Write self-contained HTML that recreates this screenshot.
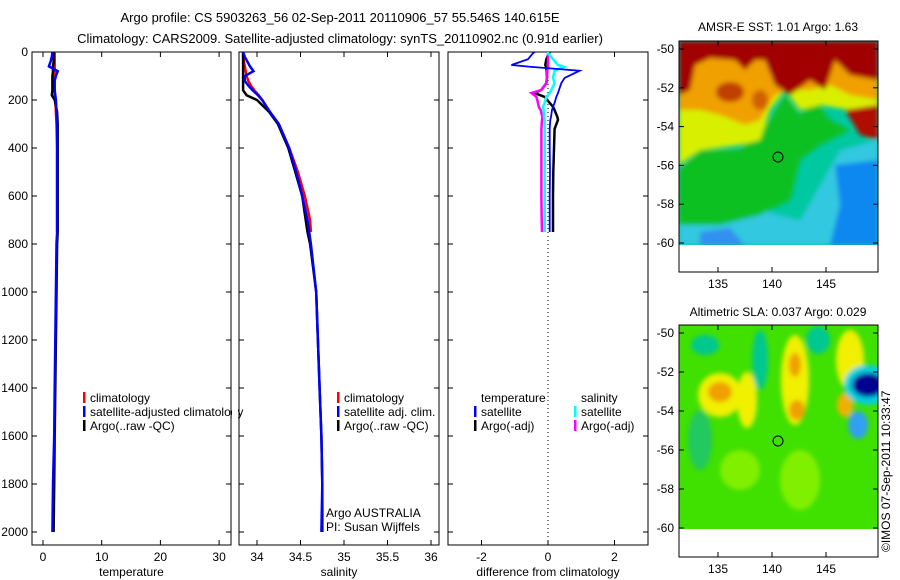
<!DOCTYPE html>
<html><head><meta charset="utf-8"><style>
body{margin:0;background:#fff}
svg{display:block;font-family:"Liberation Sans",sans-serif}
</style></head><body>
<svg id="fig" width="900" height="580" viewBox="0 0 900 580">
<defs>
<filter id="bl" x="-20%" y="-20%" width="140%" height="140%"><feGaussianBlur stdDeviation="2.5"/></filter>
<clipPath id="c1"><rect x="679" y="41" width="199" height="204"/></clipPath>
<clipPath id="c2"><rect x="679" y="325" width="199" height="204"/></clipPath>
</defs>
<text x="340" y="22" font-size="13" text-anchor="middle">Argo profile: CS 5903263_56 02-Sep-2011 20110906_57 55.546S 140.615E</text>
<text x="340" y="43" font-size="13" text-anchor="middle">Climatology: CARS2009. Satellite-adjusted climatology: synTS_20110902.nc (0.91d earlier)</text>
<g id="panels"></g>
<g>
<text x="778" y="31" font-size="12" text-anchor="middle">AMSR-E SST: 1.01 Argo: 1.63</text>
<g clip-path="url(#c1)">
<rect x="679" y="41" width="199" height="204" fill="#00c8a0"/>
<g filter="url(#bl)">
<polygon points="679,215 760,210 800,220 840,150 878,140 878,245 679,245" fill="#30c8e0"/>
<polygon points="835,165 878,160 878,245 830,245 840,205" fill="#1088f0"/>
<polygon points="700,232 730,228 745,245 700,245" fill="#3090f0"/>
<polygon points="679,170 700,150 740,150 770,120 785,95 800,115 815,100 830,120 850,130 820,145 800,160 790,200 760,215 720,225 679,225" fill="#10c020"/>
<polygon points="679,41 878,41 878,120 850,110 820,105 800,110 785,90 770,110 760,140 740,145 700,150 679,165" fill="#d8f000"/>
<polygon points="679,41 878,41 878,100 850,95 830,85 810,90 790,90 775,95 760,120 745,125 720,115 700,110 679,110" fill="#f0a000"/>
<polygon points="679,41 878,41 878,80 850,75 835,60 825,90 810,80 790,95 775,85 765,60 755,60 745,70 735,60 710,58 695,65 690,90 679,95" fill="#a00000"/>
<ellipse cx="730" cy="92" rx="14" ry="10" fill="#c04000"/>
<ellipse cx="760" cy="100" rx="8" ry="10" fill="#d06000"/>
<polygon points="845,110 878,105 878,140 860,135" fill="#b01000"/>
</g>
</g>
<rect x="679" y="245" width="199" height="27" fill="#fff"/>
<rect x="679" y="41" width="199" height="231" fill="none" stroke="#000"/>
<circle cx="778" cy="157" r="5" fill="none" stroke="#000"/>
<g id="ax1"></g>
</g>
<g>
<text x="778" y="316" font-size="12" text-anchor="middle">Altimetric SLA: 0.037 Argo: 0.029</text>
<g clip-path="url(#c2)">
<rect x="679" y="325" width="199" height="204" fill="#40e000"/>
<g filter="url(#bl)">
<ellipse cx="705" cy="345" rx="14" ry="10" fill="#00c890"/>
<ellipse cx="760" cy="360" rx="8" ry="30" fill="#00c890"/>
<ellipse cx="818" cy="340" rx="12" ry="14" fill="#00c890"/>
<ellipse cx="700" cy="440" rx="12" ry="30" fill="#20c860"/>
<ellipse cx="740" cy="470" rx="20" ry="20" fill="#80f000"/>
<ellipse cx="800" cy="480" rx="20" ry="30" fill="#80f000"/>
<ellipse cx="720" cy="395" rx="22" ry="22" fill="#f0f000"/>
<ellipse cx="747" cy="400" rx="10" ry="28" fill="#f0f000"/>
<ellipse cx="795" cy="380" rx="14" ry="45" fill="#f0f000"/>
<ellipse cx="850" cy="360" rx="14" ry="30" fill="#f0f000"/>
<ellipse cx="720" cy="392" rx="12" ry="10" fill="#f0a000"/>
<ellipse cx="795" cy="365" rx="6" ry="12" fill="#f0a000"/>
<ellipse cx="797" cy="410" rx="8" ry="10" fill="#f0a000"/>
<ellipse cx="845" cy="405" rx="8" ry="12" fill="#f0b000"/>
<ellipse cx="868" cy="385" rx="24" ry="20" fill="#00d0e0"/>
<ellipse cx="858" cy="425" rx="10" ry="14" fill="#30a0f0"/>
<ellipse cx="868" cy="385" rx="16" ry="12" fill="#000090"/>
</g>
</g>
<rect x="679" y="529" width="199" height="28" fill="#fff"/>
<rect x="679" y="325" width="199" height="232" fill="none" stroke="#000"/>
<circle cx="778" cy="441" r="5" fill="none" stroke="#000"/>
<g id="ax2"></g>
</g>
<text transform="translate(890,552) rotate(-90)" font-size="12">©IMOS 07-Sep-2011 10:33:47</text>
</svg>
<script>
const depths=[0,20,40,60,80,100,120,140,160,180,200,250,300,400,500,600,700,750,800,1000,1200,1400,1600,1800,2000];
const tempClim=[2.0,2.0,2.0,2.0,2.0,1.9,1.9,1.9,2.0,2.0,2.1,2.2,2.3,2.4,2.4,2.4,2.4,2.4];
const tempSat=[1.6,1.5,1.3,1.0,2.5,2.2,2.0,2.0,2.0,2.1,2.2,2.3,2.4,2.4,2.4,2.4,2.4,2.4,2.3,2.2,2.1,2.0,1.9,1.7,1.6];
const tempArgo=[1.8,1.8,1.8,1.7,1.7,1.6,1.6,1.6,1.6,1.5,2.0,2.4,2.5,2.5,2.5,2.5,2.5,2.5,2.4,2.3,2.2,2.1,2.0,1.9,1.8];
const salClim=[33.84,33.84,33.85,33.86,33.87,33.88,33.9,33.93,33.97,34.02,34.06,34.15,34.25,34.37,34.47,34.55,34.61,34.62];
const salSat=[33.84,33.86,33.89,33.92,33.96,33.86,33.86,33.9,33.95,34.01,34.06,34.15,34.25,34.37,34.45,34.52,34.58,34.6,34.62,34.68,34.7,34.72,34.74,34.75,34.74];
const salArgo=[33.84,33.84,33.84,33.84,33.84,33.84,33.84,33.84,33.84,33.88,34.0,34.14,34.24,34.36,34.44,34.52,34.56,34.58,34.61,34.68,34.7,34.72,34.74,34.75,34.75];
const diffDepths=[0,5,30,54,62,78,108,130,158,171,187,212,228,242,270,283,320,400,500,600,700,750];
const dTempSat=[-0.4,-0.45,-0.6,-1.1,-0.5,0.95,0.5,0.4,0.33,0.3,0.25,0.2,0.15,0.12,0.09,0.07,0.05,0.05,0.06,0.05,0.05,0.05];
const dTempArgo=[0.05,0.03,-0.05,-0.08,-0.06,-0.04,-0.03,-0.05,-0.2,-0.4,-0.1,0.05,0.15,0.2,0.28,0.3,0.2,0.18,0.16,0.15,0.15,0.15];
const dSalSat=[0.0,0.0,0.15,0.3,0.48,0.2,0.15,0.2,0.1,0.05,-0.05,-0.1,-0.15,-0.13,-0.12,-0.1,-0.1,-0.1,-0.1,-0.1,-0.1,-0.1];
const dSalArgo=[0.0,0.0,0.0,0.0,0.0,-0.02,-0.03,-0.05,-0.2,-0.5,-0.35,-0.3,-0.28,-0.22,-0.17,-0.18,-0.2,-0.2,-0.2,-0.2,-0.19,-0.18];
const depthTicks=[0,200,400,600,800,1000,1200,1400,1600,1800,2000];
const tempTicks=[0,10,20,30];
const salTicks=[34,34.5,35,35.5,36];
const diffTicks=[-2,0,2];
const latTicks=[-50,-52,-54,-56,-58,-60];
const lonTicks=[135,140,145];

const NS='http://www.w3.org/2000/svg';
function mk(tag,at,parent){const e=document.createElementNS(NS,tag);for(const k in at)e.setAttribute(k,at[k]);parent.appendChild(e);return e;}
const yD=d=>52+0.24*d;
const root=document.getElementById('panels');
const P=[
 {x0:32,x1:231,f:v=>43+5.87*v,ticks:tempTicks,label:'temperature',name:'temperature-panel'},
 {x0:239,x1:439,f:v=>257+87*(v-34),ticks:salTicks,label:'salinity',name:'salinity-panel'},
 {x0:448,x1:648,f:v=>548+33.25*v,ticks:diffTicks,label:'difference from climatology',name:'difference-panel'}];
P.forEach((p,i)=>{
 const g=mk('g',{},root);
 
 
 mk('rect',{x:p.x0,y:52,width:p.x1-p.x0,height:493,fill:'none',stroke:'#000'},g);
 depthTicks.forEach(d=>{const y=yD(d);
  mk('line',{x1:p.x0,x2:p.x0+5,y1:y,y2:y,stroke:'#000'},g);
  mk('line',{x1:p.x1-5,x2:p.x1,y1:y,y2:y,stroke:'#000'},g);
  if(i==0){const t=mk('text',{x:28,y:y+4,'font-size':12,'text-anchor':'end'},g);t.textContent=d;
   
   }
 });
 p.ticks.forEach(v=>{const x=p.f(v);
  mk('line',{x1:x,x2:x,y1:545,y2:540,stroke:'#000'},g);
  mk('line',{x1:x,x2:x,y1:52,y2:57,stroke:'#000'},g);
  const t=mk('text',{x:x,y:561,'font-size':12,'text-anchor':'middle'},g);t.textContent=v;
  
  
 });
 const t=mk('text',{x:(p.x0+p.x1)/2,y:576,'font-size':12,'text-anchor':'middle'},g);t.textContent=p.label;
 
 
});
function line(p,vals,ds,col,name,w){
 const pts=vals.map((v,k)=>p.f(v).toFixed(1)+','+yD(ds[k]).toFixed(1)).join(' ');
 const e=mk('polyline',{points:pts,fill:'none',stroke:col,'stroke-width':w||2.5},root);
 
 
}
mk('line',{x1:548,x2:548,y1:52,y2:545,stroke:'#000','stroke-dasharray':'1,3'},root);
line(P[0],tempClim,depths,'#f00','temp-climatology-line');
line(P[0],tempArgo,depths,'#000','temp-argo-line');
line(P[0],tempSat,depths,'#00f','temp-satellite-line');
line(P[1],salClim,depths,'#f00','sal-climatology-line');
line(P[1],salArgo,depths,'#000','sal-argo-line');
line(P[1],salSat,depths,'#00f','sal-satellite-line');
line(P[2],dTempArgo,diffDepths,'#000','diff-temp-argo-line');
line(P[2],dSalArgo,diffDepths,'#f0f','diff-sal-argo-line');
line(P[2],dSalSat,diffDepths,'#0ff','diff-sal-satellite-line');
line(P[2],dTempSat,diffDepths,'#00f','diff-temp-satellite-line',1.8);
function legend(x,y,items,name){
 const g=mk('g',{},root);
 
 
 items.forEach((it,k)=>{const yy=y+k*14;
  if(it[1])mk('rect',{x:x,y:yy-10,width:2.5,height:11,fill:it[1]},g);
  const t=mk('text',{x:x+7,y:yy,'font-size':12},g);t.textContent=it[0];
 });
}
legend(83,402,[['climatology','#f00'],['satellite-adjusted climatology','#00f'],['Argo(..raw -QC)','#000']],'temp-legend');
legend(337,402,[['climatology','#f00'],['satellite adj. clim.','#00f'],['Argo(..raw -QC)','#000']],'sal-legend');
legend(474,402,[['temperature',null],['satellite','#00f'],['Argo(-adj)','#000']],'diff-temp-legend');
legend(574,402,[['salinity',null],['satellite','#0ff'],['Argo(-adj)','#f0f']],'diff-sal-legend');
mk('rect',{x:232,y:380,width:6,height:50,fill:'#fff'},root);
mk('line',{x1:239,x2:239,y1:380,y2:430,stroke:'#000'},root);
const pi=mk('text',{x:326,y:517,'font-size':12},root);pi.textContent='Argo AUSTRALIA';


const pi2=mk('text',{x:326,y:531,'font-size':12},root);pi2.textContent='PI: Susan Wijffels';


function mapAxes(id,top,y50,y60,bot){
 const g=document.getElementById(id);
 const yl=v=>y50+(y60-y50)*(v+50)/-10, xl=v=>718+10.8*(v-135);
 latTicks.forEach(v=>{const y=yl(v);
  mk('line',{x1:679,x2:684,y1:y,y2:y,stroke:'#000'},g);
  mk('line',{x1:873,x2:878,y1:y,y2:y,stroke:'#000'},g);
  const t=mk('text',{x:674,y:y+4,'font-size':12,'text-anchor':'end'},g);t.textContent=v;
  
  });
 lonTicks.forEach(v=>{const x=xl(v);
  mk('line',{x1:x,x2:x,y1:top,y2:top+5,stroke:'#000'},g);
  mk('line',{x1:x,x2:x,y1:bot-5,y2:bot,stroke:'#000'},g);
  const t=mk('text',{x:x,y:bot+16,'font-size':12,'text-anchor':'middle'},g);t.textContent=v;
  
  });
}
mapAxes('ax1',41,49,243,272);
mapAxes('ax2',325,333,528,557);
</script>
</body></html>
